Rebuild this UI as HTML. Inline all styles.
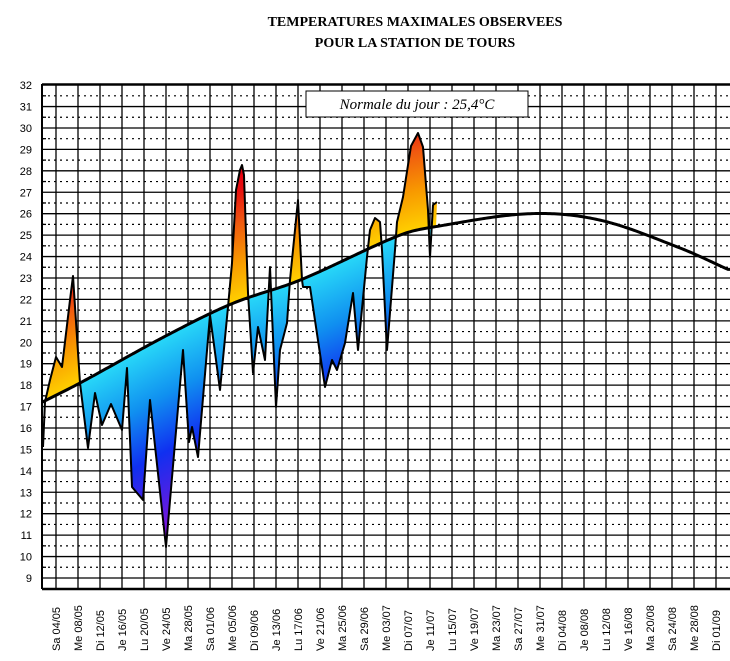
<!DOCTYPE html>
<html><head><meta charset="utf-8"><style>
html,body{margin:0;padding:0;background:#fff;width:730px;height:661px;overflow:hidden}
svg{display:block;overflow:hidden}
</style></head><body>
<svg id="s" width="730" height="661" xmlns="http://www.w3.org/2000/svg" font-family="Liberation Sans, sans-serif">
<defs>
<linearGradient id="warm" gradientUnits="userSpaceOnUse" x1="0" y1="0" x2="0" y2="-130">
<stop offset="0" stop-color="#ffd000"/><stop offset="0.3" stop-color="#f89a00"/><stop offset="0.6" stop-color="#f05a10"/><stop offset="0.85" stop-color="#e81010"/><stop offset="1" stop-color="#e80010"/></linearGradient>
<linearGradient id="cool" gradientUnits="userSpaceOnUse" x1="0" y1="0" x2="0" y2="210">
<stop offset="0" stop-color="#28d8f8"/><stop offset="0.28" stop-color="#1090f0"/><stop offset="0.55" stop-color="#1030f0"/><stop offset="1" stop-color="#9010d8"/></linearGradient>
<clipPath id="cAbove"><path id="pa"/></clipPath>
<clipPath id="cBelow"><path id="pb"/></clipPath>
<clipPath id="cData"><path id="pd"/></clipPath>
</defs>
<g id="grid"></g>
<g clip-path="url(#cData)"><g id="fa" clip-path="url(#cAbove)"></g><g id="fb" clip-path="url(#cBelow)"></g></g>
<g id="lines"></g>
<text x="415" y="26" text-anchor="middle" font-family="Liberation Serif, serif" font-weight="bold" font-size="14">TEMPERATURES MAXIMALES OBSERVEES</text>
<text x="415" y="47" text-anchor="middle" font-family="Liberation Serif, serif" font-weight="bold" font-size="14">POUR LA STATION DE TOURS</text>
<rect x="306" y="91" width="222" height="26" fill="#fff" stroke="#000" stroke-width="1"/>
<text x="417" y="109" text-anchor="middle" font-family="Liberation Serif, serif" font-style="italic" font-size="15">Normale du jour : 25,4°C</text>
</svg>
<script>
const NS="http://www.w3.org/2000/svg";
const L=42,R=730,T=84,B=589;
const Y=t=>578-(t-9)*21.43;
function el(p,tag,a,txt){const e=document.createElementNS(NS,tag);for(const k in a)e.setAttribute(k,a[k]);if(txt)e.textContent=txt;p.appendChild(e);return e;}
const g=document.getElementById('grid');
for(let t=9;t<=32;t++){const y=Y(t);el(g,'line',{x1:L,x2:R,y1:y,y2:y,stroke:'#000','stroke-width':1.3});
 el(g,'text',{x:32,y:y+4,'text-anchor':'end','font-size':11},String(t));
 if(t<32){const h=Y(t+0.5);el(g,'line',{x1:L,x2:R,y1:h,y2:h,stroke:'#000','stroke-width':1.2,'stroke-dasharray':'2,4'});el(g,'line',{x1:L,x2:L+4,y1:h,y2:h,stroke:'#000','stroke-width':1.3});}
}
const labs="Sa 04/05,Me 08/05,Di 12/05,Je 16/05,Lu 20/05,Ve 24/05,Ma 28/05,Sa 01/06,Me 05/06,Di 09/06,Je 13/06,Lu 17/06,Ve 21/06,Ma 25/06,Sa 29/06,Me 03/07,Di 07/07,Je 11/07,Lu 15/07,Ve 19/07,Ma 23/07,Sa 27/07,Me 31/07,Di 04/08,Je 08/08,Lu 12/08,Ve 16/08,Ma 20/08,Sa 24/08,Me 28/08,Di 01/09".split(',');
labs.forEach((l,i)=>{const x=56+22*i;el(g,'line',{x1:x,x2:x,y1:T,y2:B,stroke:'#000','stroke-width':1.3});
 el(g,'text',{x:0,y:0,'font-size':11,'text-anchor':'start',transform:`translate(${x+4},651) rotate(-90)`},l);});
el(g,'line',{x1:L,x2:R,y1:T,y2:T,stroke:'#000','stroke-width':1.5});
el(g,'line',{x1:L,x2:L,y1:T,y2:B,stroke:'#000','stroke-width':2});
el(g,'line',{x1:L,x2:R,y1:B,y2:B,stroke:'#000','stroke-width':2.5});
const np=[[42,17.2],[80,18.1],[166,20.3],[232,21.8],[300,22.9],[400,25.0],[436,25.4],[530,26],[600,25.7],[680,24.4],[728,23.4]].map(p=>[p[0],Y(p[1])]);
function normY(x){for(let i=0;i<np.length-1;i++){if(x<=np[i+1][0]){const p0=np[Math.max(0,i-1)],p1=np[i],p2=np[i+1],p3=np[Math.min(np.length-1,i+2)];const u=(x-p1[0])/(p2[0]-p1[0]);
 const a=p1[1],m1=(p2[1]-p0[1])/(p2[0]-p0[0])*(p2[0]-p1[0]),m2=(p3[1]-p1[1])/(p3[0]-p1[0])*(p2[0]-p1[0]),b=p2[1];
 const h00=2*u**3-3*u*u+1,h10=u**3-2*u*u+u,h01=-2*u**3+3*u*u,h11=u**3-u*u;return h00*a+h10*m1+h01*b+h11*m2;}}return np[np.length-1][1];}
let nd=[];for(let x=42;x<=730;x+=2)nd.push([x,normY(x)]);
const nstr=nd.map(p=>p.join(',')).join(' ');
document.getElementById('pa').setAttribute('d','M42,0 L'+nstr.replace(/ /g,' L')+' L730,0 Z');
document.getElementById('pb').setAttribute('d','M42,600 L'+nstr.replace(/ /g,' L')+' L730,600 Z');
const d=[[43,447],[45,402],[50,380],[56,357],[62,367],[70,300],[73,276],[80,383],[88,448],[95,393],[102,425],[111,404],[122,430],[127,368],[132,487],[143,500],[150,400],[166,547],[183,350],[189,442],[192,427],[198,457],[210,315],[220,390],[228,307],[232,263],[236,190],[240,170],[242,165],[244,175],[248,293],[253,373],[258,327],[265,360],[270,267],[276,407],[280,350],[287,323],[290,280],[298,200],[302,280],[303,287],[310,287],[325,387],[332,360],[337,370],[345,343],[353,293],[358,350],[367,257],[370,230],[375,218],[380,222],[382,250],[387,350],[395,250],[397,222],[403,197],[411,146],[418,133],[423,147],[428,210],[430,257],[433,205],[437,202]];
const dstr=d.map(p=>p.join(',')).join(' ');
const back=nd.filter(p=>p[0]>=43&&p[0]<=437).reverse().map(p=>p.join(',')).join(' ');
document.getElementById('pd').setAttribute('d','M'+dstr.replace(/ /g,' L')+' L'+back.replace(/ /g,' L')+' Z');
const fa=document.getElementById('fa'),fb=document.getElementById('fb');
for(let x=42;x<438;x++){const ny=normY(x+0.5);
 el(fa,'rect',{x:x,y:-200,width:1.2,height:200,fill:'url(#warm)',transform:`translate(0,${ny})`});
 el(fb,'rect',{x:x,y:0,width:1.2,height:260,fill:'url(#cool)',transform:`translate(0,${ny})`});}
const ln=document.getElementById('lines');
el(ln,'polyline',{points:dstr,fill:'none',stroke:'#000','stroke-width':2,'stroke-linejoin':'round'});
el(ln,'polyline',{points:nstr,fill:'none',stroke:'#000','stroke-width':3});
</script>
</body></html>
